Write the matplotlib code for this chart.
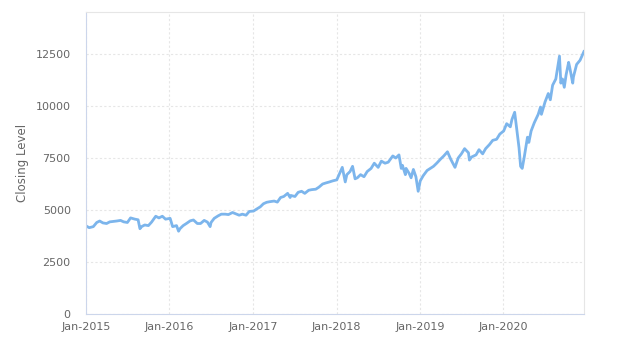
import matplotlib
matplotlib.use("Agg")
import matplotlib.pyplot as plt
import matplotlib.dates as mdates
import pandas as pd

# approximate closing levels
dates = [
    "2015-01-02", "2015-01-15", "2015-02-02", "2015-02-17", "2015-03-02", "2015-03-16",
    "2015-04-01", "2015-04-15", "2015-05-01", "2015-05-15", "2015-06-01", "2015-06-15",
    "2015-07-01", "2015-07-15", "2015-08-03", "2015-08-17", "2015-08-25", "2015-09-01",
    "2015-09-15", "2015-10-01", "2015-10-15", "2015-11-02", "2015-11-16", "2015-12-01",
    "2015-12-15",
    "2016-01-04", "2016-01-15", "2016-02-01", "2016-02-10", "2016-02-16", "2016-03-01",
    "2016-03-15", "2016-04-01", "2016-04-15", "2016-05-02", "2016-05-16", "2016-06-01",
    "2016-06-15", "2016-06-27", "2016-07-01", "2016-07-15", "2016-08-01", "2016-08-15",
    "2016-09-01", "2016-09-15", "2016-10-03", "2016-10-14", "2016-11-01", "2016-11-15",
    "2016-12-01", "2016-12-15",
    "2017-01-03", "2017-01-17", "2017-02-01", "2017-02-15", "2017-03-01", "2017-03-15",
    "2017-04-03", "2017-04-17", "2017-05-01", "2017-05-15", "2017-06-01", "2017-06-12",
    "2017-06-15", "2017-07-03", "2017-07-17", "2017-08-01", "2017-08-15", "2017-09-01",
    "2017-09-15", "2017-10-02", "2017-10-16", "2017-11-01", "2017-11-15", "2017-12-01",
    "2017-12-15",
    "2018-01-02", "2018-01-16", "2018-01-26", "2018-02-08", "2018-02-15", "2018-03-01",
    "2018-03-12", "2018-03-23", "2018-04-02", "2018-04-16", "2018-05-01", "2018-05-15",
    "2018-06-01", "2018-06-15", "2018-07-02", "2018-07-16", "2018-08-01", "2018-08-15",
    "2018-09-04", "2018-09-17", "2018-10-01", "2018-10-11", "2018-10-16", "2018-10-29",
    "2018-11-01", "2018-11-15", "2018-11-23", "2018-12-03", "2018-12-14", "2018-12-24",
    "2019-01-02", "2019-01-15", "2019-02-01", "2019-02-15", "2019-03-01", "2019-03-15",
    "2019-04-01", "2019-04-15", "2019-05-01", "2019-05-15", "2019-06-03", "2019-06-17",
    "2019-07-01", "2019-07-15", "2019-08-01", "2019-08-05", "2019-08-15", "2019-09-03",
    "2019-09-16", "2019-10-02", "2019-10-15", "2019-11-01", "2019-11-15", "2019-12-02",
    "2019-12-16",
    "2020-01-02", "2020-01-15", "2020-01-31", "2020-02-07", "2020-02-19", "2020-03-02",
    "2020-03-09", "2020-03-16", "2020-03-23", "2020-04-01", "2020-04-15", "2020-04-21",
    "2020-05-01", "2020-05-15", "2020-06-01", "2020-06-11", "2020-06-15", "2020-07-01",
    "2020-07-15", "2020-07-24", "2020-08-03", "2020-08-17", "2020-09-02", "2020-09-08",
    "2020-09-15", "2020-09-23", "2020-10-01", "2020-10-12", "2020-10-16", "2020-10-30",
    "2020-11-02", "2020-11-16", "2020-12-01", "2020-12-18",
]
closing = [
    4230, 4150, 4200, 4400, 4470, 4380,
    4350, 4430, 4450, 4470, 4500, 4430,
    4400, 4620, 4560, 4530, 4100, 4200,
    4280, 4250, 4420, 4700, 4620, 4700,
    4560,
    4600, 4200, 4250, 3980, 4100, 4250,
    4350, 4480, 4520, 4350, 4350, 4500,
    4420, 4200, 4400, 4600, 4720, 4800,
    4800, 4780, 4880, 4830, 4750, 4800,
    4750, 4930,
    4950, 5050, 5150, 5300, 5370, 5400,
    5430, 5380, 5600, 5650, 5800, 5600,
    5700, 5650, 5850, 5900, 5800, 5950,
    5980, 6000, 6100, 6250, 6300, 6350,
    6400,
    6450, 6800, 7050, 6350, 6700, 6850,
    7100, 6500, 6550, 6700, 6600, 6850,
    7000, 7250, 7050, 7350, 7250, 7300,
    7600, 7500, 7650, 7000, 7150, 6700,
    7000, 6750, 6550, 6950, 6600, 5900,
    6400, 6650, 6900, 7000, 7100, 7250,
    7450, 7600, 7800, 7450, 7050, 7500,
    7700, 7950, 7750, 7400, 7550, 7650,
    7900, 7700, 7950, 8150, 8350, 8400,
    8650,
    8800, 9150, 9000, 9350, 9700, 8600,
    8000, 7100, 7000, 7550, 8500, 8250,
    8800, 9200, 9600, 9950, 9600, 10200,
    10600, 10300, 11000, 11300, 12400, 11100,
    11300, 10900, 11500, 12100, 11900, 11100,
    11400, 12000, 12200, 12620,
]
y_ticks = [0, 2500, 5000, 7500, 10000, 12500]

x = pd.to_datetime(dates)

fig = plt.figure(figsize=(6.24, 3.46), dpi=100)
ax = fig.add_axes([0.1378, 0.0925, 0.798, 0.8728])

ax.plot(x, closing, color="#7cb5ec", linewidth=2, solid_joinstyle="round")

ax.set_xlim(pd.Timestamp("2015-01-01"), pd.Timestamp("2020-12-18"))
ax.set_ylim(0, 14520)
ax.set_yticks(y_ticks)
ax.xaxis.set_major_locator(mdates.YearLocator())
ax.xaxis.set_major_formatter(mdates.DateFormatter("Jan-%Y"))

ax.grid(True, color="#e6e6e6", linestyle=(0, (2, 2)), linewidth=0.8)
ax.set_axisbelow(True)
for side in ["left", "bottom"]:
    ax.spines[side].set_color("#ccd6eb")
    ax.spines[side].set_linewidth(0.8)
for side in ["top", "right"]:
    ax.spines[side].set_color("#e6e6e6")
    ax.spines[side].set_linewidth(0.8)

ax.tick_params(axis="both", length=0, labelsize=8, labelcolor="#666666")
ax.tick_params(axis="y", pad=11)
ax.tick_params(axis="x", pad=6)
ax.set_ylabel("Closing Level", fontsize=8.5, color="#666666", labelpad=5)

plt.savefig("out.png", dpi=100)
plt.close()
